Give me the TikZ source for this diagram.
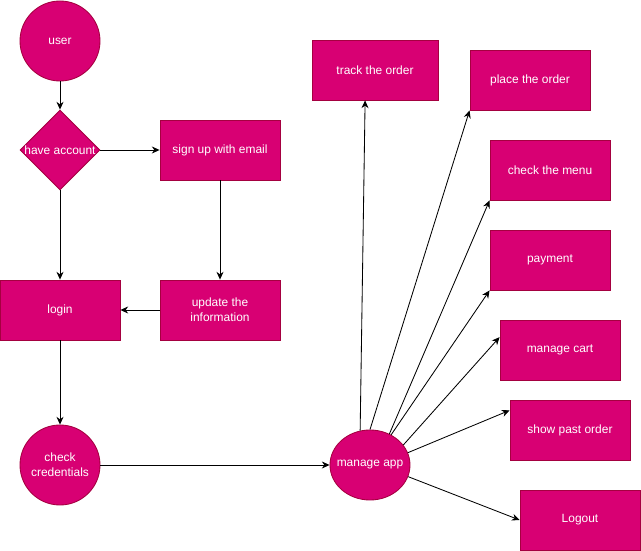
\documentclass[tikz,border=0pt]{standalone}
\usepackage{fontspec}
\setmainfont{Liberation Sans}
\usetikzlibrary{arrows.meta, shapes.geometric}
\definecolor{apppink}{HTML}{D80073}
\definecolor{appedge}{HTML}{A50040}

\begin{document}
\begin{tikzpicture}[
    x=0.025cm, y=-0.025cm,
    font=\fontsize{8.5}{10.5}\selectfont,
    stepbox/.style={rectangle, draw=appedge, line width=0.6pt, fill=apppink,
                    text=white, align=center, inner sep=0pt,
                    minimum width=3cm, minimum height=1.5cm},
    endcircle/.style={stepbox, circle, minimum size=2cm},
    hubellipse/.style={stepbox, ellipse, minimum width=2cm, minimum height=1.75cm},
    choice/.style={stepbox, diamond, aspect=1, minimum width=2cm, minimum height=2cm},
    arrow/.style={-{Stealth[length=5.5pt, width=5pt]}, line width=0.6pt, draw=black}
  ]
    % fixed page size, same as the reference
    \useasboundingbox (0,0) rectangle (641,551);

    % Left column -- sign in flow
    \node[endcircle] (user)   at (60, 41)  {user};
    \node[choice]    (account) at (60, 150) {have account};
    \node[stepbox]   (signup) at (220, 150) {sign up with email};
    \node[stepbox]   (login)  at (60, 310)  {login};
    \node[stepbox]   (update) at (220, 310) {update the\\information};
    \node[endcircle] (check)  at (60, 465)  {check\\credentials};

    % Hub and its actions
    \node[hubellipse] (app) at (370, 465) {\makebox[0pt]{manage app}};
    \node[stepbox, minimum width=3.15cm] (track) at (375, 70) {track the order};
    \node[stepbox] (place)   at (530, 80)  {place the order};
    \node[stepbox] (menu)    at (550, 170) {check the menu};
    \node[stepbox] (payment) at (550, 260) {payment};
    \node[stepbox] (cart)    at (560, 350) {manage cart};
    \node[stepbox] (past)    at (570, 430) {show past order};
    \node[stepbox] (logout)  at (580, 520) {Logout};

    % Sign in arrows
    \draw[arrow] (user.south) -- (account.north);
    \draw[arrow] (account.east) -- (signup.west);
    \draw[arrow] (account.south) -- (login.north);
    \draw[arrow] (signup.south) -- (update.north);
    \draw[arrow] (update.west) -- (login.east);
    \draw[arrow] (login.south) -- (check.north);
    \draw[arrow] (check.east) -- (app.west);

    % Fan out from the hub
    \draw[arrow] (app.106) -- (track.252);
    \draw[arrow] (app.90)  -- (place.south west);
    \draw[arrow] (app.58)  -- (menu.south west);
    \draw[arrow] (app.55)  -- (payment.south west);
    \draw[arrow] (app.31)  -- (cart.168);
    \draw[arrow] (app.18)  -- (past.162);
    \draw[arrow] (app.343) -- (logout.west);
  \end{tikzpicture}
\end{document}
